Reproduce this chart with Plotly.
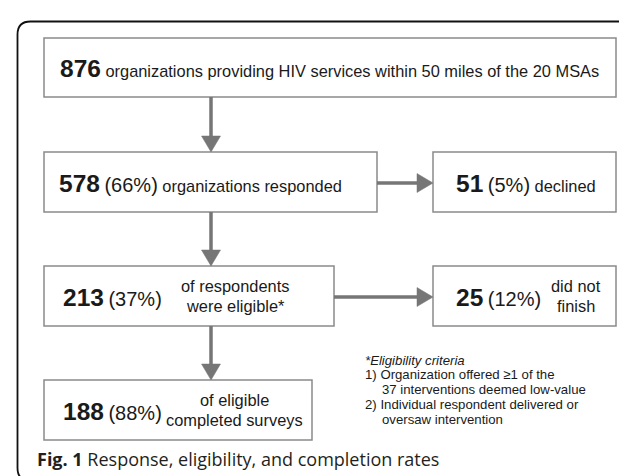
import plotly.graph_objects as go

# ---------------- data ----------------
counts = [876, 578, 51, 213, 25, 188]
percents = [None, 66, 5, 37, 12, 88]
descriptions = [
    "organizations providing HIV services within 50 miles of the 20 MSAs",
    "organizations responded",
    "declined",
    "of respondents|were eligible*",
    "did not|finish",
    "of eligible|completed surveys",
]
criteria_title = "*Eligibility criteria"
criteria_lines = [
    "1) Organization offered \u22651 of the",
    "37 interventions deemed low-value",
    "2) Individual respondent delivered or",
    "oversaw intervention",
]
criteria_indent = [False, True, False, True]
caption_bold = "Fig. 1"
caption_text = "Response, eligibility, and completion rates"

# ---------------- layout geometry ----------------
W, H = 627, 476
# box: x0, x1, y0, y1
boxes = [
    (36, 608, 30, 89),
    (36, 369, 144, 204),
    (425, 608, 144, 204),
    (36, 326, 258, 318),
    (425, 608, 258, 318),
    (36, 304, 372, 432),
]
box_mode = ["inline", "inline", "inline", "split", "split", "split"]
num_x = [50, 49, 446, 53, 446, 53]
desc_cx = [None, None, None, 227, 568, 226]
# arrows: (x0, y0, x1, y1)
arrows = [
    (203, 89, 203, 144),
    (203, 204, 203, 258),
    (203, 318, 203, 372),
    (369, 175, 425, 175),
    (326, 289, 425, 289),
]

BOX_COL = "#8a8a8a"
ARR_COL = "#767676"
TXT_COL = "#1a1a1a"
FONT = "Liberation Sans, Arial, sans-serif"

shapes = []
annotations = []

# outer rounded frame
fx0, fy0, fx1, fy1, r = 9.5, 13.5, 626, 473, 13
frame_path = (
    f"M {fx0+r},{fy0} L {fx1-r},{fy0} Q {fx1},{fy0} {fx1},{fy0+r} "
    f"L {fx1},{fy1-r} Q {fx1},{fy1} {fx1-r},{fy1} "
    f"L {fx0+r},{fy1} Q {fx0},{fy1} {fx0},{fy1-r} "
    f"L {fx0},{fy0+r} Q {fx0},{fy0} {fx0+r},{fy0} Z"
)
shapes.append(dict(type="path", path=frame_path, xref="x", yref="y",
                   line=dict(color="#111111", width=1.8)))

for (x0, x1, y0, y1) in boxes:
    shapes.append(dict(type="rect", x0=x0, x1=x1, y0=y0, y1=y1, xref="x", yref="y",
                       line=dict(color=BOX_COL, width=1.5), fillcolor="white"))

# arrows
head_len, head_half = 16, 9.5
for (x0, y0, x1, y1) in arrows:
    if x0 == x1:  # vertical, pointing down
        shapes.append(dict(type="line", x0=x0, x1=x1, y0=y0, y1=y1 - head_len + 1,
                           xref="x", yref="y", line=dict(color=ARR_COL, width=3.5)))
        p = f"M {x1-head_half},{y1-head_len} L {x1+head_half},{y1-head_len} L {x1},{y1} Z"
    else:  # horizontal, pointing right
        shapes.append(dict(type="line", x0=x0, x1=x1 - head_len + 1, y0=y0, y1=y1,
                           xref="x", yref="y", line=dict(color=ARR_COL, width=3.5)))
        p = f"M {x1-head_len},{y1-head_half} L {x1-head_len},{y1+head_half} L {x1},{y1} Z"
    shapes.append(dict(type="path", path=p, xref="x", yref="y",
                       fillcolor=ARR_COL, line=dict(color=ARR_COL, width=0.5)))

def num_html(i):
    s = f"<b><span style='font-size:24.5px'>{counts[i]}</span></b>"
    if percents[i] is not None:
        s += f" <span style='font-size:20px'>({percents[i]}%)</span>"
    return s

for i, (x0, x1, y0, y1) in enumerate(boxes):
    cy = (y0 + y1) / 2
    if box_mode[i] == "inline":
        annotations.append(dict(x=num_x[i], y=cy + 1, xref="x", yref="y",
                                text=num_html(i) + " " + descriptions[i],
                                showarrow=False, xanchor="left", yanchor="middle",
                                font=dict(family=FONT, size=16.4, color=TXT_COL)))
    else:
        annotations.append(dict(x=num_x[i], y=cy + 1, xref="x", yref="y",
                                text=num_html(i), showarrow=False,
                                xanchor="left", yanchor="middle",
                                font=dict(family=FONT, size=16.4, color=TXT_COL)))
        lines = descriptions[i].split("|")
        for k, ln in enumerate(lines):
            annotations.append(dict(x=desc_cx[i], y=cy + (k - 0.5) * 19.5, xref="x", yref="y",
                                    text=ln, showarrow=False,
                                    xanchor="center", yanchor="middle",
                                    font=dict(family=FONT, size=16.4, color=TXT_COL)))

# criteria footnote
fn_x, fn_indent, fn_y0, fn_dy = 355, 372, 352, 14.8
annotations.append(dict(x=fn_x, y=fn_y0, xref="x", yref="y", text=f"<i>{criteria_title}</i>",
                        showarrow=False, xanchor="left", yanchor="middle",
                        font=dict(family=FONT, size=13.2, color=TXT_COL)))
for k, line in enumerate(criteria_lines):
    annotations.append(dict(x=fn_indent if criteria_indent[k] else fn_x,
                            y=fn_y0 + fn_dy * (k + 1), xref="x", yref="y", text=line,
                            showarrow=False, xanchor="left", yanchor="middle",
                            font=dict(family=FONT, size=13.2, color=TXT_COL)))

# caption
annotations.append(dict(x=27, y=451, xref="x", yref="y",
                        text=f"<b>{caption_bold}</b> {caption_text}",
                        showarrow=False, xanchor="left", yanchor="middle",
                        font=dict(family="Open Sans, Noto Sans, sans-serif", size=18,
                                  color="#231f20")))

fig = go.Figure()
fig.update_layout(
    width=W, height=H,
    margin=dict(l=0, r=0, t=0, b=0),
    paper_bgcolor="white", plot_bgcolor="white",
    xaxis=dict(range=[0, W], visible=False, fixedrange=True),
    yaxis=dict(range=[H, 0], visible=False, fixedrange=True),
    shapes=shapes, annotations=annotations, showlegend=False,
)
fig.write_html("out.html")
